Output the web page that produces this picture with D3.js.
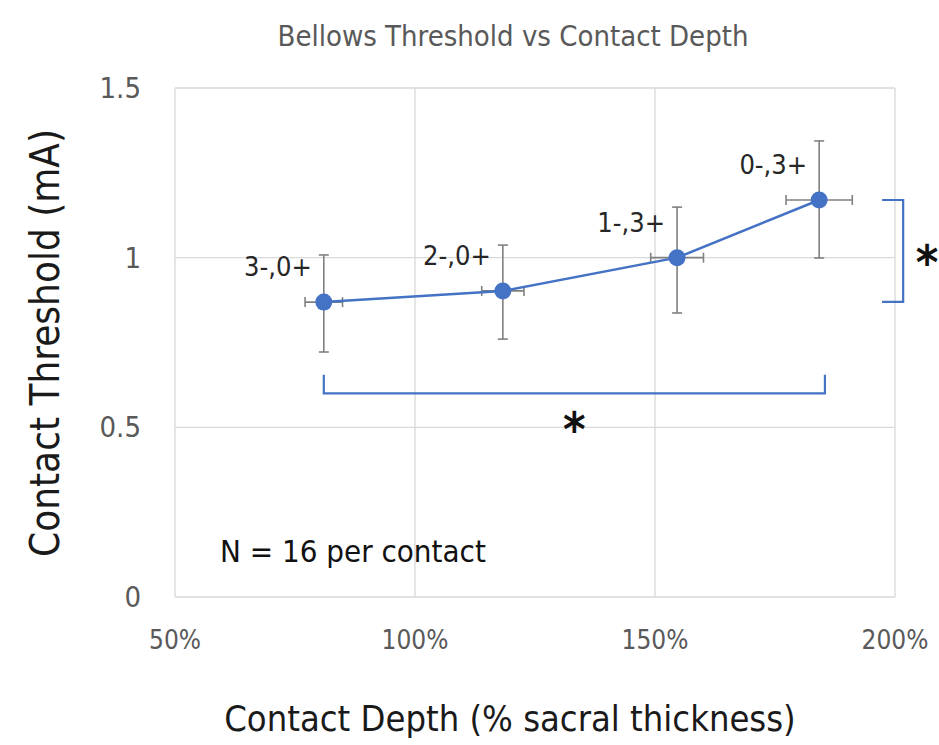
<!DOCTYPE html>
<html>
<head>
<meta charset="utf-8">
<script src="https://cdn.jsdelivr.net/npm/d3@7"></script>
<style>
  body { margin: 0; background: #fff; }
  text { font-family: "DejaVu Sans Condensed", "Open Sans", sans-serif; }
</style>
</head>
<body>
<div id="chart"></div>
<script>
// contact depth (% sacral thickness) and threshold (mA)
var depth = [81, 118.3, 154.6, 184.2];
var depthErr = [3.9, 4.4, 5.5, 6.9];
var threshold = [0.869, 0.902, 1.0, 1.17];
var thrLow = [0.722, 0.760, 0.837, 0.999];
var thrHigh = [1.008, 1.037, 1.149, 1.344];
var pointLabels = ['3-,0+', '2-,0+', '1-,3+', '0-,3+'];

var xTicks = [50, 100, 150, 200];
var yTicks = [0, 0.5, 1, 1.5];

// significance brackets, in data units
var bottomBracket = { x1: 81, x2: 185.4, y: 0.60, top: 0.655 };
var sideBracket = { x: 201.7, inner: 197.3, y1: 1.17, y2: 0.87 };

var width = 939;
var height = 745;
var blue = '#4472C4';

var svg = d3.select('#chart')
    .append('svg')
    .attr('width', width)
    .attr('height', height);

var x = d3.scaleLinear().domain([50, 200]).range([175, 895]);
var y = d3.scaleLinear().domain([0, 1.5]).range([597, 88]);

// grid
svg.append('g')
    .selectAll('line')
    .data(yTicks)
    .enter()
    .append('line')
    .attr('x1', x(50)).attr('x2', x(200))
    .attr('y1', d => y(d)).attr('y2', d => y(d))
    .attr('stroke', '#d9d9d9').attr('stroke-width', 1.3);

svg.append('g')
    .selectAll('line')
    .data(xTicks)
    .enter()
    .append('line')
    .attr('x1', d => x(d)).attr('x2', d => x(d))
    .attr('y1', y(0)).attr('y2', y(1.5))
    .attr('stroke', '#d9d9d9').attr('stroke-width', 1.3);

// tick labels
svg.append('g')
    .selectAll('text')
    .data(yTicks)
    .enter()
    .append('text')
    .attr('x', 141)
    .attr('y', d => y(d) + 10)
    .attr('text-anchor', 'end')
    .attr('font-size', 29)
    .attr('fill', '#595959')
    .text(d => d);

svg.append('g')
    .selectAll('text')
    .data(xTicks)
    .enter()
    .append('text')
    .attr('x', d => x(d))
    .attr('y', 649)
    .attr('text-anchor', 'middle')
    .attr('font-size', 26)
    .attr('fill', '#595959')
    .text(d => d + '%');

// titles
svg.append('text')
    .attr('x', 513).attr('y', 46)
    .attr('text-anchor', 'middle')
    .attr('font-size', 29)
    .attr('fill', '#595959')
    .text('Bellows Threshold vs Contact Depth');

svg.append('text')
    .attr('x', 510).attr('y', 731)
    .attr('text-anchor', 'middle')
    .attr('font-size', 36)
    .attr('fill', '#1a1a1a')
    .text('Contact Depth (% sacral thickness)');

svg.append('text')
    .attr('transform', 'translate(59,343) rotate(-90)')
    .attr('text-anchor', 'middle')
    .attr('font-size', 40)
    .attr('fill', '#1a1a1a')
    .text('Contact Threshold (mA)');

var idx = d3.range(depth.length);

// error bars
var err = svg.append('g').attr('stroke', '#808080').attr('stroke-width', 1.6);
err.selectAll('.v').data(idx).enter().append('line')
    .attr('x1', i => x(depth[i])).attr('x2', i => x(depth[i]))
    .attr('y1', i => y(thrLow[i])).attr('y2', i => y(thrHigh[i]));
err.selectAll('.vlo').data(idx).enter().append('line')
    .attr('x1', i => x(depth[i]) - 5).attr('x2', i => x(depth[i]) + 5)
    .attr('y1', i => y(thrLow[i])).attr('y2', i => y(thrLow[i]));
err.selectAll('.vhi').data(idx).enter().append('line')
    .attr('x1', i => x(depth[i]) - 5).attr('x2', i => x(depth[i]) + 5)
    .attr('y1', i => y(thrHigh[i])).attr('y2', i => y(thrHigh[i]));
err.selectAll('.h').data(idx).enter().append('line')
    .attr('x1', i => x(depth[i] - depthErr[i])).attr('x2', i => x(depth[i] + depthErr[i]))
    .attr('y1', i => y(threshold[i])).attr('y2', i => y(threshold[i]));
err.selectAll('.hl').data(idx).enter().append('line')
    .attr('x1', i => x(depth[i] - depthErr[i])).attr('x2', i => x(depth[i] - depthErr[i]))
    .attr('y1', i => y(threshold[i]) - 5).attr('y2', i => y(threshold[i]) + 5);
err.selectAll('.hr').data(idx).enter().append('line')
    .attr('x1', i => x(depth[i] + depthErr[i])).attr('x2', i => x(depth[i] + depthErr[i]))
    .attr('y1', i => y(threshold[i]) - 5).attr('y2', i => y(threshold[i]) + 5);

// line + markers
var line = d3.line()
    .x(i => x(depth[i]))
    .y(i => y(threshold[i]));

svg.append('path')
    .attr('d', line(idx))
    .attr('fill', 'none')
    .attr('stroke', blue)
    .attr('stroke-width', 2.5);

svg.append('g')
    .selectAll('circle')
    .data(idx)
    .enter()
    .append('circle')
    .attr('cx', i => x(depth[i]))
    .attr('cy', i => y(threshold[i]))
    .attr('r', 8.5)
    .attr('fill', blue);

// point labels (above-left of each point)
svg.append('g')
    .selectAll('text')
    .data(idx)
    .enter()
    .append('text')
    .attr('x', i => x(depth[i]) - 12)
    .attr('y', i => y(threshold[i]) - 26)
    .attr('text-anchor', 'end')
    .attr('font-size', 27)
    .attr('fill', '#262626')
    .text(i => pointLabels[i]);

// significance brackets
var b = bottomBracket;
svg.append('path')
    .attr('d', 'M' + x(b.x1) + ',' + y(b.top) + 'V' + y(b.y) + 'H' + x(b.x2) + 'V' + y(b.top))
    .attr('fill', 'none').attr('stroke', blue).attr('stroke-width', 2.2);
svg.append('text')
    .attr('x', x((b.x1 + b.x2) / 2)).attr('y', y(b.y) + 53)
    .attr('text-anchor', 'middle')
    .attr('font-size', 48).attr('font-weight', 'bold')
    .attr('fill', '#111')
    .text('*');

var s = sideBracket;
svg.append('path')
    .attr('d', 'M' + x(s.inner) + ',' + y(s.y1) + 'H' + x(s.x) + 'V' + y(s.y2) + 'H' + x(s.inner))
    .attr('fill', 'none').attr('stroke', blue).attr('stroke-width', 2.2);
svg.append('text')
    .attr('x', 927).attr('y', (y(s.y1) + y(s.y2)) / 2 + 28)
    .attr('text-anchor', 'middle')
    .attr('font-size', 48).attr('font-weight', 'bold')
    .attr('fill', '#111')
    .text('*');

svg.append('text')
    .attr('x', 220).attr('y', 562)
    .attr('font-size', 31)
    .attr('fill', '#111')
    .text('N = 16 per contact');
</script>
</body>
</html>
